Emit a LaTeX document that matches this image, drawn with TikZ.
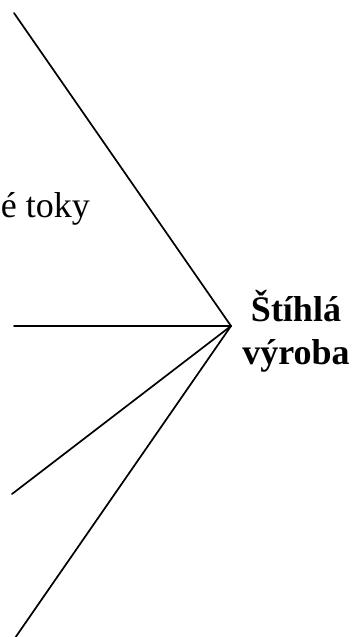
\documentclass[tikz,border=0pt]{standalone}
\usepackage{fontspec}
\setmainfont{Liberation Serif}
\begin{document}
\begin{tikzpicture}[x=1pt,y=-1pt,
  spoke/.style={line width=1.7pt,line cap=round},
  lbl/.style={inner sep=0pt,font=\fontsize{36}{43}\selectfont}]
\clip (0,0) rectangle (355,637);
\useasboundingbox (0,0) rectangle (355,637);
\coordinate (hub) at (231,326);
\coordinate (e1) at (14,13);
\coordinate (e2) at (14,326);
\coordinate (e3) at (12,494);
\coordinate (e4) at (15,638);
\foreach \e in {e1,e2,e3,e4} \draw[spoke] (\e) -- (hub);
\node[lbl,anchor=base east] (toky) at (90,217) {é toky};
\node[lbl,anchor=base,align=center,font=\fontsize{36}{43}\selectfont\bfseries] (lean) at (296,364) {Štíhlá\\výroba};
\end{tikzpicture}
\end{document}
